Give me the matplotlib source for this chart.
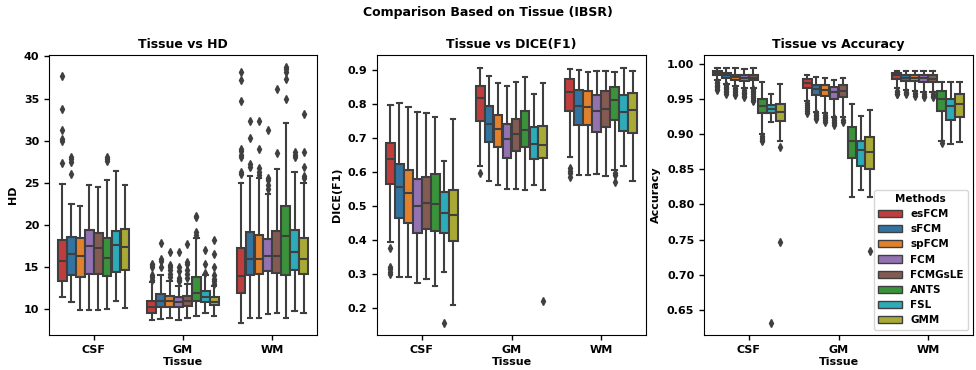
import colorsys
import numpy as np
import matplotlib.pyplot as plt
import matplotlib.colors as mcolors
from matplotlib.patches import Patch

# categories
tissues = ['CSF', 'GM', 'WM']
methods = ['esFCM', 'sFCM', 'spFCM', 'FCM', 'FCMGsLE', 'ANTS', 'FSL', 'GMM']

# ---- HD box stats (rows: tissue, cols: method) ----
hd_low = [[11.4, 10.9, 9.9, 9.9, 9.9, 10.0, 11.0, 10.1],
          [8.7, 8.8, 9.0, 8.7, 9.0, 9.2, 9.5, 9.2],
          [8.3, 9.0, 9.0, 9.4, 9.6, 8.9, 9.8, 9.5]]
hd_q1 = [[13.3, 14.1, 13.8, 14.2, 14.2, 13.9, 14.4, 14.6],
         [9.6, 10.3, 10.3, 10.3, 10.4, 11.0, 10.8, 10.5],
         [11.9, 14.0, 14.2, 14.5, 14.3, 14.0, 14.7, 14.2]]
hd_med = [[15.7, 16.5, 16.3, 17.5, 17.2, 16.1, 17.6, 17.4],
          [10.2, 11.0, 11.0, 10.9, 11.0, 11.9, 11.4, 10.9],
          [13.9, 16.0, 15.9, 16.3, 16.3, 18.7, 16.8, 15.9]]
hd_q3 = [[18.2, 18.6, 18.5, 19.4, 19.0, 18.5, 19.3, 19.5],
         [11.0, 11.8, 11.6, 11.4, 11.6, 13.8, 12.1, 11.4],
         [17.2, 19.1, 18.8, 18.3, 19.3, 22.3, 19.4, 18.5]]
hd_high = [[24.9, 22.5, 22.2, 24.7, 24.5, 25.3, 26.4, 24.7],
           [13.2, 14.0, 13.3, 12.8, 13.0, 18.4, 14.1, 12.8],
           [25.0, 25.8, 25.6, 23.7, 26.6, 32.1, 26.3, 25.0]]
hd_fliers = [[[27.3, 30.0, 30.2, 31.3, 33.7, 37.7], [26.1, 27.5, 27.8, 28.1], [], [], [],
              [27.6, 27.8, 28.0], [], []],
             [[13.5, 13.8, 14.0, 15.0, 15.2, 15.4], [15.0, 15.7, 15.9, 17.8],
              [13.8, 14.2, 14.6, 15.0, 15.2, 16.8], [13.3, 13.5, 13.7, 14.5, 15.0, 16.8],
              [13.7, 14.2, 14.7, 15.3, 15.6, 17.7], [18.8, 19.1, 20.9, 21.1],
              [14.3, 15.3, 17.0], [13.0, 13.3, 13.6, 14.0, 15.0, 16.5, 18.2]],
             [[26.0, 26.3, 28.0, 28.3, 28.8, 29.0, 34.7, 37.2, 38.1], [26.9, 27.2, 30.3, 32.3],
              [25.9, 26.3, 26.7, 29.0, 32.3], [24.3, 24.7, 25.3, 25.6, 31.3], [28.5, 36.1],
              [34.9, 37.3, 38.1, 38.5, 38.7], [28.0, 28.3, 28.6], [25.6, 25.8, 26.9, 28.6, 33.2]]]

# ---- DICE(F1) box stats ----
dice_low = [[0.394, 0.293, 0.293, 0.275, 0.287, 0.265, 0.307, 0.210],
            [0.620, 0.574, 0.563, 0.551, 0.551, 0.548, 0.563, 0.547],
            [0.645, 0.592, 0.592, 0.595, 0.590, 0.608, 0.619, 0.574]]
dice_q1 = [[0.565, 0.465, 0.452, 0.421, 0.434, 0.427, 0.423, 0.397],
           [0.752, 0.688, 0.674, 0.641, 0.662, 0.675, 0.638, 0.643],
           [0.782, 0.738, 0.740, 0.719, 0.733, 0.754, 0.721, 0.717]]
dice_med = [[0.638, 0.557, 0.539, 0.502, 0.509, 0.507, 0.480, 0.475],
            [0.820, 0.742, 0.727, 0.698, 0.712, 0.724, 0.684, 0.680],
            [0.836, 0.795, 0.792, 0.780, 0.786, 0.812, 0.777, 0.783]]
dice_q3 = [[0.685, 0.625, 0.608, 0.580, 0.587, 0.596, 0.543, 0.548],
           [0.855, 0.794, 0.769, 0.743, 0.757, 0.782, 0.733, 0.737],
           [0.875, 0.841, 0.838, 0.828, 0.840, 0.850, 0.828, 0.835]]
dice_high = [[0.798, 0.803, 0.793, 0.778, 0.774, 0.762, 0.633, 0.757],
             [0.907, 0.884, 0.863, 0.855, 0.865, 0.880, 0.831, 0.862],
             [0.905, 0.901, 0.896, 0.898, 0.898, 0.895, 0.907, 0.898]]
dice_fliers = [[[0.378, 0.322, 0.315, 0.308, 0.302], [], [], [], [], [], [0.157], []],
               [[0.597], [], [], [], [], [], [], [0.222]],
               [[0.612, 0.605, 0.597, 0.585], [], [], [], [], [0.598, 0.592, 0.572], [], []]]

# ---- Accuracy box stats ----
acc_low = [[0.977, 0.972, 0.969, 0.966, 0.966, 0.900, 0.917, 0.891],
           [0.948, 0.932, 0.930, 0.925, 0.925, 0.810, 0.820, 0.811],
           [0.966, 0.963, 0.962, 0.960, 0.960, 0.891, 0.886, 0.889]]
acc_q1 = [[0.985, 0.980, 0.978, 0.976, 0.977, 0.930, 0.930, 0.919],
          [0.966, 0.956, 0.955, 0.951, 0.953, 0.866, 0.855, 0.850],
          [0.979, 0.976, 0.976, 0.974, 0.974, 0.933, 0.921, 0.925]]
acc_med = [[0.988, 0.985, 0.982, 0.981, 0.981, 0.941, 0.936, 0.932],
           [0.973, 0.964, 0.963, 0.960, 0.962, 0.890, 0.878, 0.875],
           [0.984, 0.981, 0.980, 0.980, 0.979, 0.950, 0.940, 0.944]]
acc_q3 = [[0.990, 0.988, 0.985, 0.984, 0.985, 0.951, 0.942, 0.943],
          [0.979, 0.970, 0.970, 0.968, 0.970, 0.910, 0.890, 0.896],
          [0.988, 0.985, 0.985, 0.984, 0.985, 0.962, 0.950, 0.958]]
acc_high = [[0.995, 0.995, 0.994, 0.993, 0.994, 0.974, 0.958, 0.972],
            [0.985, 0.982, 0.980, 0.978, 0.980, 0.944, 0.926, 0.935],
            [0.991, 0.991, 0.991, 0.991, 0.991, 0.975, 0.975, 0.975]]
acc_fliers = [[[0.975, 0.973, 0.971, 0.969, 0.967, 0.965, 0.963],
               [0.970, 0.968, 0.966, 0.964, 0.962, 0.960, 0.958],
               [0.966, 0.964, 0.962, 0.960, 0.958, 0.956],
               [0.963, 0.961, 0.959, 0.957, 0.955, 0.953],
               [0.964, 0.962, 0.960, 0.958, 0.955, 0.952, 0.949, 0.947],
               [0.898, 0.895, 0.892, 0.890], [0.631], [0.882, 0.746]],
              [[0.945, 0.942, 0.939, 0.936, 0.933, 0.930],
               [0.930, 0.928, 0.926, 0.924, 0.922],
               [0.927, 0.925, 0.923, 0.921, 0.918],
               [0.923, 0.920, 0.918, 0.916, 0.913],
               [0.920, 0.917], [], [], [0.733]],
              [[0.962, 0.960, 0.958, 0.957], [0.961, 0.959, 0.957],
               [0.959, 0.957, 0.955], [0.957, 0.955, 0.953], [0.957, 0.955, 0.953],
               [0.888], [], []]]

base_colors = ['tab:red', 'tab:blue', 'tab:orange', 'tab:purple',
               'tab:brown', 'tab:green', 'tab:cyan', 'tab:olive']


def desat(c, prop=0.75):
    r, g, b = mcolors.to_rgb(c)
    h, l, s = colorsys.rgb_to_hls(r, g, b)
    return colorsys.hls_to_rgb(h, l, s * prop)


colors = [desat(c) for c in base_colors]
gray = '#3f3f3f'
lw = 1.5

plt.rcParams['font.family'] = 'DejaVu Sans'
plt.rcParams['font.weight'] = 'bold'

fig = plt.figure(figsize=(9.76, 3.70), dpi=100)
axes = [fig.add_axes([49 / 976, 0.095, 268 / 976, 0.756]),
        fig.add_axes([377 / 976, 0.095, 269 / 976, 0.756]),
        fig.add_axes([704 / 976, 0.095, 269 / 976, 0.756])]

panels = [
    (hd_low, hd_q1, hd_med, hd_q3, hd_high, hd_fliers, 'HD', (6.95, 40.15)),
    (dice_low, dice_q1, dice_med, dice_q3, dice_high, dice_fliers, 'DICE(F1)', (0.122, 0.945)),
    (acc_low, acc_q1, acc_med, acc_q3, acc_high, acc_fliers, 'Accuracy', (0.614, 1.013)),
]

n = len(methods)
each = 0.8 / n
offsets = (np.arange(n) - (n - 1) / 2) * each

for ax, (lo, q1, med, q3, hi, fl, name, ylim) in zip(axes, panels):
    for t in range(len(tissues)):
        for m in range(n):
            st = dict(whislo=lo[t][m], q1=q1[t][m], med=med[t][m], q3=q3[t][m],
                      whishi=hi[t][m], fliers=fl[t][m])
            ax.bxp([st], positions=[t + offsets[m]], widths=each * 0.98,
                   patch_artist=True, showfliers=True,
                   boxprops=dict(facecolor=colors[m], edgecolor=gray, linewidth=lw),
                   medianprops=dict(color=gray, linewidth=lw),
                   whiskerprops=dict(color=gray, linewidth=lw),
                   capprops=dict(color=gray, linewidth=lw),
                   flierprops=dict(marker='d', markerfacecolor=gray, markeredgecolor=gray,
                                   markersize=4, linestyle='none'))
    ax.set_xlim(-0.5, 2.5)
    ax.set_ylim(*ylim)
    ax.set_xticks(range(len(tissues)))
    ax.set_xticklabels(tissues)
    ax.tick_params(labelsize=8, width=1, length=3.5)
    ax.set_xlabel('Tissue', fontsize=8, fontweight='bold', labelpad=2)
    ax.set_ylabel(name, fontsize=8, fontweight='bold')
    ax.set_title('Tissue vs ' + name, fontsize=9, fontweight='bold', pad=5)

axes[2].set_yticks([0.65, 0.70, 0.75, 0.80, 0.85, 0.90, 0.95, 1.00])
axes[2].set_yticklabels(['0.65', '0.70', '0.75', '0.80', '0.85', '0.90', '0.95', '1.00'])

handles = [Patch(facecolor=c, edgecolor=gray, linewidth=1) for c in colors]
leg = axes[2].legend(handles, methods, title='Methods', loc='lower right',
                     fontsize=7.5, title_fontsize=7.5, handlelength=2.3,
                     handleheight=0.7, labelspacing=0.5, borderpad=0.4)
leg.get_title().set_fontweight('bold')

fig.suptitle('Comparison Based on Tissue (IBSR)', fontsize=9, fontweight='bold', y=0.985)

fig.savefig('out.png', dpi=100)
